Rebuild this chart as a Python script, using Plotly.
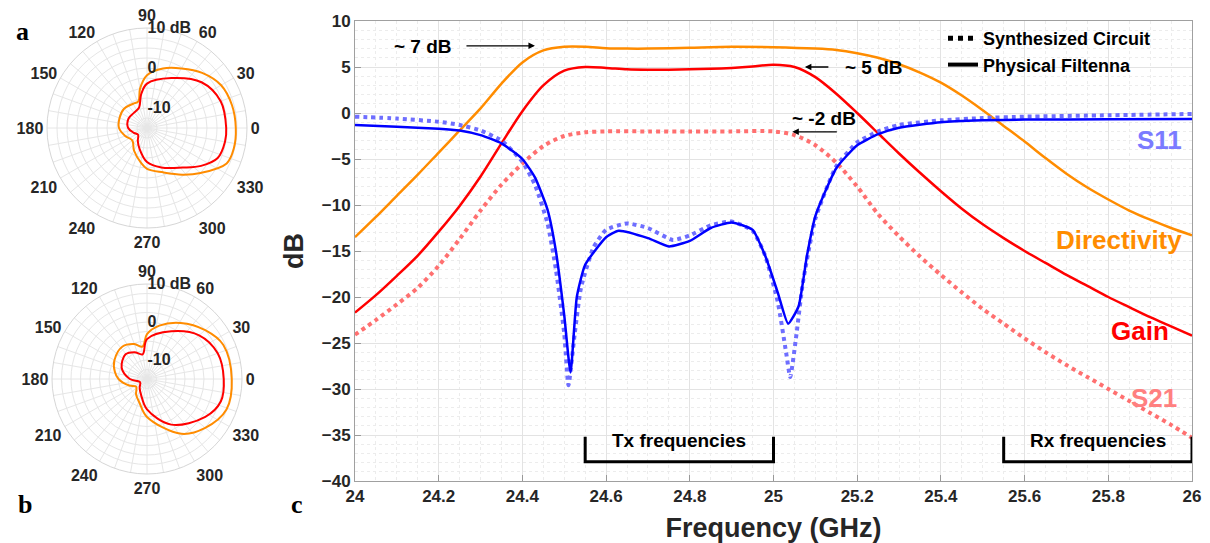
import plotly.graph_objects as go

# ---------------- panel c data ----------------
dir_f = [24.0, 24.05, 24.1, 24.15, 24.2, 24.25, 24.3, 24.35, 24.4, 24.45, 24.5, 24.55, 24.6, 24.65,
         24.7, 24.8, 24.9, 25.0, 25.1, 25.15, 25.2, 25.25, 25.3, 25.35, 25.4, 25.45, 25.5, 25.55, 25.6,
         25.65, 25.7, 25.75, 25.8, 25.85, 25.9, 25.95, 26.0]
dir_db = [-13.5, -11.3, -9.0, -6.7, -4.3, -1.9, 0.5, 3.2, 5.5, 6.8, 7.2, 7.2, 7.05, 7.0,
          7.0, 7.1, 7.2, 7.15, 7.0, 6.85, 6.5, 6.0, 5.3, 4.4, 3.3, 1.9, 0.3, -1.4, -3.1,
          -4.9, -6.6, -8.1, -9.4, -10.6, -11.6, -12.5, -13.3]

gain_f = [24.0, 24.05, 24.1, 24.15, 24.2, 24.25, 24.3, 24.35, 24.4, 24.45, 24.5, 24.55, 24.6, 24.65,
          24.7, 24.75, 24.8, 24.85, 24.9, 24.95, 25.0, 25.05, 25.1, 25.15, 25.2, 25.25, 25.3,
          25.35, 25.4, 25.45, 25.5, 25.55, 25.6, 25.65, 25.7, 25.75, 25.8, 25.85, 25.9, 25.95, 26.0]
gain_db = [-21.7, -19.8, -17.7, -15.5, -12.9, -10.1, -6.9, -3.3, 0.2, 3.0, 4.6, 5.0, 4.9, 4.75,
           4.7, 4.7, 4.75, 4.8, 4.9, 5.05, 5.25, 5.0, 3.9, 2.1, 0.0, -2.2, -4.4,
           -6.5, -8.5, -10.4, -12.1, -13.6, -15.0, -16.3, -17.6, -18.8, -20.0, -21.1, -22.2, -23.2, -24.2]

s21_f = [24.0, 24.05, 24.1, 24.15, 24.2, 24.25, 24.3, 24.35, 24.4, 24.45, 24.5, 24.55, 24.6, 24.7,
         24.8, 24.9, 25.0, 25.05, 25.1, 25.15, 25.2, 25.25, 25.3, 25.35, 25.4, 25.45, 25.5,
         25.55, 25.6, 25.65, 25.7, 25.75, 25.8, 25.85, 25.9, 25.95, 26.0]
s21_db = [-24.1, -22.5, -20.8, -19.0, -16.6, -13.7, -10.6, -7.8, -5.5, -3.6, -2.5, -2.1, -2.0, -2.0,
          -2.0, -2.0, -2.0, -2.4, -3.5, -5.4, -8.0, -11.0, -13.4, -15.6, -17.6, -19.5, -21.3,
          -22.9, -24.5, -26.0, -27.4, -28.7, -30.0, -31.3, -32.6, -33.9, -35.3]

s11_f = [24.0, 24.1, 24.2, 24.25, 24.3, 24.35, 24.4, 24.43, 24.46, 24.48, 24.5, 24.515, 24.53, 24.55,
         24.6, 24.63, 24.7, 24.75, 24.8, 24.85, 24.9, 24.95, 24.98, 25.01, 25.035, 25.06, 25.08,
         25.1, 25.15, 25.2, 25.25, 25.3, 25.4, 25.5, 25.6, 25.8, 26.0]
s11_db = [-1.3, -1.5, -1.7, -1.9, -2.4, -3.3, -5.0, -7.0, -10.5, -15.0, -22.0, -28.2, -20.0, -16.5,
          -13.5, -12.8, -13.6, -14.5, -13.9, -12.5, -11.9, -12.7, -15.5, -19.5, -22.9, -21.0, -15.5,
          -11.2, -6.0, -3.5, -2.3, -1.6, -1.0, -0.8, -0.72, -0.68, -0.65]

s11syn_f = [24.0, 24.1, 24.2, 24.25, 24.3, 24.35, 24.4, 24.43, 24.46, 24.48, 24.5, 24.51, 24.525, 24.54,
            24.57, 24.6, 24.65, 24.7, 24.76, 24.8, 24.85, 24.9, 24.95, 24.98, 25.01, 25.03, 25.04,
            25.055, 25.07, 25.1, 25.15, 25.2, 25.25, 25.3, 25.4, 25.5, 25.6, 25.8, 26.0]
s11syn_db = [-0.4, -0.6, -0.95, -1.3, -1.9, -3.0, -5.3, -7.8, -12.0, -17.0, -24.0, -29.6, -24.0, -19.0,
             -14.6, -12.7, -12.0, -12.5, -13.8, -13.3, -12.2, -11.8, -12.8, -15.5, -20.5, -26.0, -28.7,
             -24.0, -18.5, -11.5, -5.8, -3.2, -2.0, -1.3, -0.8, -0.55, -0.4, -0.25, -0.1]

# ---------------- panels a / b data (dB vs angle) ----------------
a_dir_ang = [0, 15, 30, 45, 60, 75, 90, 100, 108, 120, 140, 160, 180, 200, 220, 240, 260, 270,
             290, 307, 320, 336, 347, 360]
a_dir_db = [7.2, 7.0, 6.4, 4.5, 2.2, 0.4, -1.8, -5.0, -8.0, -8.0, -7.5, -7.7, -8.0, -9.2, -10.2,
            -8.5, -6.2, -4.8, -3.2, -0.4, 2.5, 6.8, 7.3, 7.2]
a_gain_ang = [0, 20, 40, 64, 90, 100, 111, 130, 153, 180, 200, 217, 235, 250, 270, 290, 312, 325,
              337, 350, 360]
a_gain_db = [4.8, 4.6, 2.8, -1.1, -3.9, -6.5, -9.5, -10.0, -9.8, -10.3, -11.5, -12.2, -11.0, -9.5,
             -6.5, -4.5, -1.7, 1.5, 4.2, 4.8, 4.8]

b_dir_ang = [0, 24, 40, 59, 77, 90, 98, 110, 127, 150, 167, 180, 200, 215, 235, 252, 270, 302,
             320, 339, 360]
b_dir_db = [7.3, 7.0, 5.0, 2.2, -0.6, -3.2, -6.4, -5.2, -4.3, -5.1, -6.3, -7.5, -10.0, -11.5,
            -10.0, -8.5, -5.0, 2.0, 5.0, 7.4, 7.3]
b_gain_ang = [0, 20, 40, 63, 90, 100, 115, 131, 156, 180, 205, 230, 248, 270, 298, 327, 343, 360]
b_gain_db = [5.2, 4.8, 2.9, -0.9, -4.5, -8.4, -7.2, -6.4, -7.7, -10.5, -13.0, -12.0, -10.7, -7.0,
             -1.4, 3.3, 5.3, 5.2]

ang_ticks = list(range(0, 360, 10))
ang_text = [str(a) if a % 30 == 0 else "" for a in ang_ticks]
rad_ticks = [-15, -12.5, -10, -7.5, -5, -2.5, 0, 2.5, 5, 7.5, 10]
rad_text = ["" if v not in (-10, 0, 10) else ("10 dB" if v == 10 else str(v)) for v in rad_ticks]

ORANGE = "#ff8c00"
RED = "#ff0000"
BLUE = "#0000ff"
LBLUE = "#6e6eff"
LRED = "#ff7070"
FONT = "Liberation Sans, Arial, sans-serif"
DARK = "#262626"

fig = go.Figure()

# main panel traces
fig.add_trace(go.Scatter(x=s21_f, y=s21_db, mode="lines", showlegend=False,
                         line=dict(color=LRED, width=4, dash="dot", shape="spline", smoothing=0.8)))
fig.add_trace(go.Scatter(x=dir_f, y=dir_db, mode="lines", showlegend=False,
                         line=dict(color=ORANGE, width=2.5, shape="spline", smoothing=0.8)))
fig.add_trace(go.Scatter(x=gain_f, y=gain_db, mode="lines", showlegend=False,
                         line=dict(color=RED, width=2.5, shape="spline", smoothing=0.8)))
fig.add_trace(go.Scatter(x=s11syn_f, y=s11syn_db, mode="lines", showlegend=False,
                         line=dict(color=LBLUE, width=4, dash="dot", shape="spline", smoothing=0.5)))
fig.add_trace(go.Scatter(x=s11_f, y=s11_db, mode="lines", showlegend=False,
                         line=dict(color=BLUE, width=2.5, shape="spline", smoothing=0.5)))

# legend entries
fig.add_trace(go.Scatter(x=[None], y=[None], mode="lines", name="Synthesized Circuit",
                         line=dict(color="black", width=5, dash="dot")))
fig.add_trace(go.Scatter(x=[None], y=[None], mode="lines", name="Physical Filtenna",
                         line=dict(color="black", width=4)))

# polar traces
fig.add_trace(go.Scatterpolar(r=a_dir_db, theta=a_dir_ang, mode="lines", subplot="polar",
                              showlegend=False, line=dict(color=ORANGE, width=2, shape="spline")))
fig.add_trace(go.Scatterpolar(r=a_gain_db, theta=a_gain_ang, mode="lines", subplot="polar",
                              showlegend=False, line=dict(color=RED, width=2, shape="spline")))
fig.add_trace(go.Scatterpolar(r=b_dir_db, theta=b_dir_ang, mode="lines", subplot="polar2",
                              showlegend=False, line=dict(color=ORANGE, width=2, shape="spline")))
fig.add_trace(go.Scatterpolar(r=b_gain_db, theta=b_gain_ang, mode="lines", subplot="polar2",
                              showlegend=False, line=dict(color=RED, width=2, shape="spline")))

W, H = 1210, 543
def px(x):
    return x / W
def py(y):
    return 1 - y / H

polar_common = dict(
    bgcolor="white",
    angularaxis=dict(tickmode="array", tickvals=ang_ticks, ticktext=ang_text, ticks="",
                     tickfont=dict(family=FONT, size=16, color=DARK, weight="bold"),
                     gridcolor="#e6e6e6", linecolor="#d6d6d6", rotation=0, direction="counterclockwise"),
    radialaxis=dict(range=[-15, 10], tickmode="array", tickvals=rad_ticks, ticktext=rad_text,
                    angle=90, tickangle=90, ticks="", showline=False,
                    tickfont=dict(family=FONT, size=16, color=DARK, weight="bold"),
                    gridcolor="#e6e6e6"),
)

fig.update_layout(
    width=W, height=H,
    margin=dict(l=0, r=0, t=0, b=0),
    paper_bgcolor="white", plot_bgcolor="white",
    font=dict(family=FONT, color=DARK),
    xaxis=dict(domain=[px(355), px(1192)], range=[24, 26], dtick=0.2, tick0=24,
               showgrid=True, gridcolor="#e3e3e3", gridwidth=1,
               minor=dict(dtick=0.05, showgrid=True, gridcolor="#ececec", griddash="dot"),
               ticks="inside", ticklen=6, tickcolor="#999",
               showline=True, linecolor="#a0a0a0", mirror=True, zeroline=False,
               tickfont=dict(family=FONT, size=17, color=DARK, weight="bold"),
               title=dict(text="Frequency (GHz)", standoff=12,
                          font=dict(family=FONT, size=27, color=DARK, weight="bold")),
               automargin=False),
    yaxis=dict(domain=[py(481), py(21)], range=[-40, 10], dtick=5,
               showgrid=True, gridcolor="#e3e3e3", gridwidth=1,
               minor=dict(dtick=1, showgrid=True, gridcolor="#ececec", griddash="dot"),
               ticks="inside", ticklen=6, tickcolor="#999",
               showline=True, linecolor="#a0a0a0", mirror=True, zeroline=False,
               tickfont=dict(family=FONT, size=17, color=DARK, weight="bold"),
               title=dict(text="dB", standoff=10,
                          font=dict(family=FONT, size=27, color=DARK, weight="bold")),
               automargin=False),
    polar=dict(domain=dict(x=[px(47), px(247)], y=[py(228), py(28)]), **polar_common),
    polar2=dict(domain=dict(x=[px(52), px(242)], y=[py(474), py(284)]), **polar_common),
    legend=dict(x=px(943), y=py(20), xanchor="left", yanchor="top",
                bgcolor="rgba(0,0,0,0)", borderwidth=0, tracegroupgap=0, itemwidth=30,
                font=dict(family=FONT, size=18, color="black", weight="bold")),
)

ann = []
# series labels
ann.append(dict(x=25.98, y=-2.9, text="S11", xanchor="right", showarrow=False,
                font=dict(family=FONT, size=26, color="#7b7bff", weight="bold")))
ann.append(dict(x=25.98, y=-13.8, text="Directivity", xanchor="right", showarrow=False,
                font=dict(family=FONT, size=26, color=ORANGE, weight="bold")))
ann.append(dict(x=25.95, y=-23.7, text="Gain", xanchor="right", showarrow=False,
                font=dict(family=FONT, size=26, color=RED, weight="bold")))
ann.append(dict(x=25.97, y=-31.0, text="S21", xanchor="right", showarrow=False,
                font=dict(family=FONT, size=26, color="#ff8080", weight="bold")))
# level call-outs
ann.append(dict(x=24.162, y=7.2, text="~ 7 dB", showarrow=False,
                font=dict(family=FONT, size=19, color="black", weight="bold")))
ann.append(dict(x=24.43, y=7.3, ax=-70, ay=0, text="", showarrow=True, arrowhead=2,
                arrowsize=1, arrowwidth=1.3, arrowcolor="black"))
ann.append(dict(x=25.24, y=4.9, text="~ 5 dB", showarrow=False,
                font=dict(family=FONT, size=19, color="black", weight="bold")))
ann.append(dict(x=25.075, y=5.0, ax=25, ay=0, text="", showarrow=True, arrowhead=2,
                arrowsize=1, arrowwidth=1.3, arrowcolor="black"))
ann.append(dict(x=25.12, y=-0.55, text="~ -2 dB", showarrow=False,
                font=dict(family=FONT, size=19, color="black", weight="bold")))
ann.append(dict(x=25.045, y=-2.05, ax=46, ay=0, text="", showarrow=True, arrowhead=2,
                arrowsize=1, arrowwidth=1.3, arrowcolor="black"))
# band labels
ann.append(dict(x=24.775, y=-35.6, text="Tx frequencies", showarrow=False,
                font=dict(family=FONT, size=19, color="black", weight="bold")))
ann.append(dict(x=25.775, y=-35.6, text="Rx frequencies", showarrow=False,
                font=dict(family=FONT, size=19, color="black", weight="bold")))
# panel letters
for t, xx, yy in [("a", 14, 15), ("b", 16, 521), ("c", 289, 521)]:
    ann.append(dict(xref="paper", yref="paper", x=px(xx), y=py(yy), text=t, showarrow=False,
                    font=dict(family="Liberation Serif, Times New Roman, serif", size=26,
                              color="black", weight="bold")))
fig.update_layout(annotations=ann)

# Tx / Rx brackets
for x0, x1 in [(24.55, 25.0), (25.55, 26.0)]:
    fig.add_shape(type="path", xref="x", yref="y",
                  path=f"M {x0},-35.2 L {x0},-37.9 L {x1},-37.9 L {x1},-35.2",
                  line=dict(color="black", width=3))

fig.write_html("out.html")
